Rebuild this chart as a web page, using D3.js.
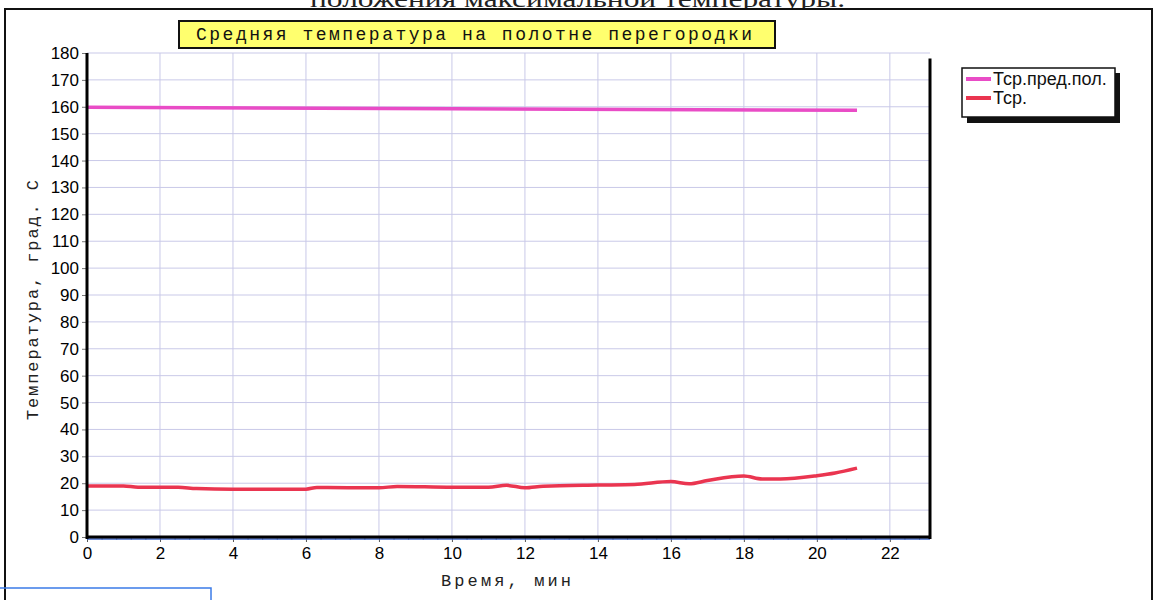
<!DOCTYPE html>
<html>
<head>
<meta charset="utf-8">
<script src="https://cdn.jsdelivr.net/npm/d3@7"></script>
<style>
  body { margin: 0; background: #fff; }
  svg { display: block; }
</style>
</head>
<body>
<div id="chart"></div>
<script>
// data
const redTime = [0, 1, 1.4, 2.5, 3, 4, 6, 6.3, 8, 8.5, 10, 11, 11.5, 12, 12.5, 14, 15, 16, 16.5, 17, 18, 18.5, 19, 20, 20.5, 21.1];
const redTemp = [19, 19, 18.5, 18.5, 18, 17.8, 17.8, 18.4, 18.3, 18.8, 18.5, 18.5, 19.2, 18.3, 18.9, 19.3, 19.5, 20.6, 19.8, 21, 22.7, 21.6, 21.6, 22.8, 23.8, 25.6];
const limitTime = [0, 10, 21.1];
const limitTemp = [159.8, 159.3, 158.7];
const zeroTime = [0, 23.1];
const zeroTemp = [0, 0];
const xTicks = [0, 2, 4, 6, 8, 10, 12, 14, 16, 18, 20, 22];
const yTicks = d3.range(0, 181, 10);
const legendNames = ["Тср.пред.пол.", "Тср."];
const legendColors = ["#e94cc6", "#ea3550"];

const mono = "'Liberation Mono', 'DejaVu Sans Mono', 'Courier New', monospace";
const sans = "'Liberation Sans', Arial, sans-serif";

const W = 1157, H = 600;
const svg = d3.select("#chart").append("svg")
  .attr("width", W).attr("height", H);

// page text cut off at the top (as in the scan)
svg.append("text")
  .attr("x", 310).attr("y", 7)
  .attr("font-family", "'Liberation Serif', serif").attr("font-size", 24)
  .attr("textLength", 535).attr("lengthAdjust", "spacingAndGlyphs")
  .attr("fill", "#222")
  .text("положения максимальной температуры.");

// outer frame
svg.append("rect")
  .attr("x", 5).attr("y", 9).attr("width", 1147).attr("height", 620)
  .attr("fill", "#fff").attr("stroke", "#111").attr("stroke-width", 2);

// blue box bottom left
svg.append("rect")
  .attr("x", -2).attr("y", 588).attr("width", 213).attr("height", 40)
  .attr("fill", "none").attr("stroke", "#3b7be8").attr("stroke-width", 1.5);

const x = d3.scaleLinear().domain([0, 23.1]).range([87, 930]);
const y = d3.scaleLinear().domain([0, 180]).range([537, 53]);

// grid
const grid = svg.append("g").attr("stroke", "#c9c9e8").attr("stroke-width", 1);
grid.selectAll(".gy").data(yTicks.slice(1)).join("line")
  .attr("x1", x(0)).attr("x2", x(23.1))
  .attr("y1", d => y(d)).attr("y2", d => y(d));
grid.selectAll(".gx").data(xTicks.slice(1)).join("line")
  .attr("x1", d => x(d)).attr("x2", d => x(d))
  .attr("y1", y(180)).attr("y2", y(0));

// axes
const xAxis = d3.axisBottom(x).tickValues(xTicks).tickSize(5).tickPadding(5);
const xMinor = d3.axisBottom(x).tickValues(d3.range(0, 23.1, 0.4)).tickSize(3).tickFormat("");
const yAxis = d3.axisLeft(y).tickValues(yTicks).tickSize(5).tickPadding(3);

svg.append("g").attr("transform", `translate(0,${y(0)})`).call(xMinor)
  .call(g => g.select(".domain").remove())
  .call(g => g.selectAll("line").attr("stroke", "#777"));

const gx = svg.append("g").attr("transform", `translate(0,${y(0)})`).call(xAxis);
gx.select(".domain").remove();
gx.selectAll("line").attr("stroke", "#555");
gx.selectAll("text").attr("font-family", sans).attr("font-size", 17).attr("fill", "#000");

const gy = svg.append("g").attr("transform", `translate(${x(0)},0)`).call(yAxis);
gy.select(".domain").remove();
gy.selectAll("line").attr("stroke", "#777");
gy.selectAll("text").attr("font-family", sans).attr("font-size", 17).attr("fill", "#000");

// series
const line = d3.line().x(d => x(d[0])).y(d => y(d[1])).curve(d3.curveMonotoneX);

svg.append("path").datum(d3.zip(zeroTime, zeroTemp))
  .attr("d", line).attr("transform", "translate(0,2)")
  .attr("fill", "none").attr("stroke", "#3a63c8").attr("stroke-width", 1.5);

svg.append("path").datum(d3.zip(limitTime, limitTemp))
  .attr("d", line).attr("fill", "none")
  .attr("stroke", legendColors[0]).attr("stroke-width", 3.5);

svg.append("path").datum(d3.zip(redTime, redTemp))
  .attr("d", line).attr("fill", "none")
  .attr("stroke", legendColors[1]).attr("stroke-width", 3.5);

// plot frame lines
svg.append("line").attr("x1", x(0)).attr("x2", x(0)).attr("y1", y(180)).attr("y2", y(0) + 2)
  .attr("stroke", "#000").attr("stroke-width", 3);
svg.append("line").attr("x1", x(23.1)).attr("x2", x(23.1)).attr("y1", y(178)).attr("y2", y(0) + 2)
  .attr("stroke", "#000").attr("stroke-width", 3);
svg.append("line").attr("x1", x(0) - 1).attr("x2", x(23.1) + 1).attr("y1", y(0)).attr("y2", y(0))
  .attr("stroke", "#000").attr("stroke-width", 3);

// title box
svg.append("rect").attr("x", 179).attr("y", 21).attr("width", 596).attr("height", 27)
  .attr("fill", "#ffff6e").attr("stroke", "#111").attr("stroke-width", 2);
svg.append("text").attr("x", 196).attr("y", 40)
  .attr("font-family", mono).attr("font-size", 18)
  .attr("textLength", 556).attr("lengthAdjust", "spacing")
  .attr("fill", "#111")
  .text("Средняя температура на полотне перегородки");

// axis titles
svg.append("text").attr("x", 441).attr("y", 586)
  .attr("font-family", mono).attr("font-size", 17)
  .attr("textLength", 130).attr("lengthAdjust", "spacing")
  .attr("fill", "#222")
  .text("Время, мин");
svg.append("text")
  .attr("transform", "translate(38,420) rotate(-90)")
  .attr("font-family", mono).attr("font-size", 17)
  .attr("textLength", 240).attr("lengthAdjust", "spacing")
  .attr("fill", "#222")
  .text("Температура, град. С");

// legend
const lg = svg.append("g");
lg.append("rect").attr("x", 967).attr("y", 73).attr("width", 153).attr("height", 50).attr("fill", "#111");
lg.append("rect").attr("x", 962).attr("y", 68).attr("width", 153).attr("height", 49)
  .attr("fill", "#fff").attr("stroke", "#111").attr("stroke-width", 1.5);
legendNames.forEach((n, i) => {
  const yy = 79 + i * 19;
  lg.append("line").attr("x1", 966).attr("x2", 991).attr("y1", yy).attr("y2", yy)
    .attr("stroke", legendColors[i]).attr("stroke-width", 4);
  lg.append("text").attr("x", 993).attr("y", yy + 6)
    .attr("font-family", sans).attr("font-size", 18).attr("fill", "#111")
    .text(n);
});
</script>
</body>
</html>
